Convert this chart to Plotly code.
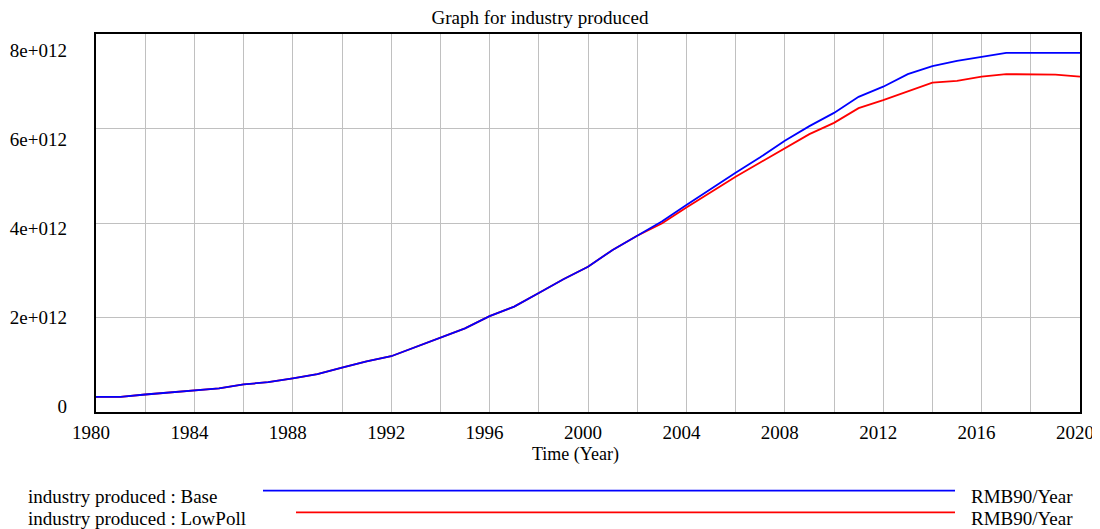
import plotly.graph_objects as go

# ---------------- data ----------------
years = list(range(1980, 2021))
base_e12 = [0.32, 0.32, 0.37, 0.415, 0.46, 0.50, 0.585, 0.63, 0.71, 0.80, 0.94, 1.07, 1.18,
            1.38, 1.57, 1.77, 2.03, 2.23, 2.52, 2.81, 3.075, 3.43, 3.73,
            4.03, 4.38, 4.73, 5.065, 5.39, 5.74, 6.05, 6.33, 6.67, 6.885,
            7.15, 7.32, 7.43, 7.51, 7.60, 7.60, 7.60, 7.60]
lowpoll_e12 = [0.32, 0.32, 0.37, 0.415, 0.46, 0.50, 0.585, 0.63, 0.71, 0.80, 0.94, 1.07, 1.18,
               1.38, 1.57, 1.77, 2.03, 2.23, 2.52, 2.81, 3.075, 3.43, 3.73,
               3.99, 4.33, 4.66, 4.98, 5.28, 5.58, 5.88, 6.12, 6.43, 6.60,
               6.79, 6.97, 7.01, 7.10, 7.15, 7.15, 7.14, 7.10]
base = [v * 1e12 for v in base_e12]
lowpoll = [v * 1e12 for v in lowpoll_e12]

y_tickvals = [0, 2e12, 4e12, 6e12, 8e12]
y_ticktext = ["0", "2e+012", "4e+012", "6e+012", "8e+012"]
x_tickvals = list(range(1980, 2021, 4))

series_names = ["industry produced : Base", "industry produced : LowPoll"]
units = ["RMB90/Year", "RMB90/Year"]
title_text = "Graph for industry produced"
x_title = "Time (Year)"

# ---------------- layout geometry (page pixels) ----------------
PAGE_W, PAGE_H = 1100, 529
OFF = 8                      # default body margin of the page
W, H = PAGE_W - OFF, PAGE_H - OFF
L, R, T, B = 96, 1080, 34, 412   # plot area in page pixels
FONT = "Liberation Serif"
GRID = "#c0c0c0"


def px_x(p):
    return (p - L) / (R - L)


def px_y(p):
    return (B - p) / (B - T)


fig = go.Figure()
fig.add_trace(go.Scatter(x=years, y=lowpoll, mode="lines", name=series_names[1],
                         line=dict(color="#ff0000", width=1.8), showlegend=False))
fig.add_trace(go.Scatter(x=years, y=base, mode="lines", name=series_names[0],
                         line=dict(color="#0000ff", width=1.8), showlegend=False))
# invisible carrier so that the label axis is drawn
fig.add_trace(go.Scatter(x=[years[0]], y=[base[0]], yaxis="y2", mode="lines",
                         line=dict(width=0), hoverinfo="skip", showlegend=False, opacity=0))

# labels of the value axis sit progressively lower than their grid lines (as in the original)
lab_top, lab_bot = 50, 406
span = y_tickvals[-1] / (lab_bot - lab_top)
y2_range = [-(B - lab_bot) * span, (lab_bot - T) * span]

fig.update_layout(
    width=W, height=H, autosize=False,
    margin=dict(l=L - OFF, r=PAGE_W - R, t=T - OFF, b=PAGE_H - B, autoexpand=False),
    paper_bgcolor="white", plot_bgcolor="white",
    font=dict(family=FONT, size=19, color="black"),
    title=dict(text=title_text, x=(540 - OFF) / W, xanchor="center",
               y=1 - (17 - OFF) / H, yanchor="middle", yref="container", automargin=False,
               font=dict(family=FONT, size=19, color="black")),
    xaxis=dict(range=[1980, 2020], tickmode="array", tickvals=x_tickvals, tickformat="d",
               showgrid=True, gridcolor=GRID, gridwidth=1.3, automargin=False,
               minor=dict(dtick=2, tick0=1980, showgrid=True, gridcolor=GRID, gridwidth=1.3),
               ticks="", showline=True, mirror=True, linecolor="black", linewidth=2,
               zeroline=False, ticklabelshift=-5, ticklabelstandoff=2,
               tickfont=dict(family=FONT, size=19, color="black")),
    yaxis=dict(range=[0, 8e12], tickmode="array", tickvals=y_tickvals, showticklabels=False,
               showgrid=True, gridcolor=GRID, gridwidth=1.3, ticks="", automargin=False,
               showline=True, mirror=True, linecolor="black", linewidth=2, zeroline=False),
    yaxis2=dict(range=y2_range, overlaying="y", side="left", anchor="x", automargin=False,
                tickmode="array", tickvals=y_tickvals, ticktext=y_ticktext,
                showgrid=False, zeroline=False, showline=False, ticks="",
                ticklabelstandoff=28,
                tickfont=dict(family=FONT, size=19, color="black")),
)

annotations = [
    dict(text=x_title, x=px_x(575.5), y=px_y(454), xref="paper", yref="paper",
         xanchor="center", yanchor="middle", showarrow=False,
         font=dict(family=FONT, size=18, color="black")),
]
legend_rows = [(496, 490.7, 263, "#0000ff"), (518, 512.3, 296, "#ff0000")]
for (ty, ly, lx0, col), name, unit in zip(legend_rows, series_names, units):
    annotations.append(dict(text=name, x=px_x(26), y=px_y(ty), xref="paper", yref="paper",
                            xanchor="left", yanchor="middle", showarrow=False,
                            font=dict(family=FONT, size=19, color="black")))
    annotations.append(dict(text=unit, x=px_x(969), y=px_y(ty), xref="paper", yref="paper",
                            xanchor="left", yanchor="middle", showarrow=False,
                            font=dict(family=FONT, size=19, color="black")))
    fig.add_shape(type="line", xref="paper", yref="paper",
                  x0=px_x(lx0), x1=px_x(955), y0=px_y(ly), y1=px_y(ly),
                  line=dict(color=col, width=1.8))
fig.update_layout(annotations=annotations)

fig.write_html("out.html")
